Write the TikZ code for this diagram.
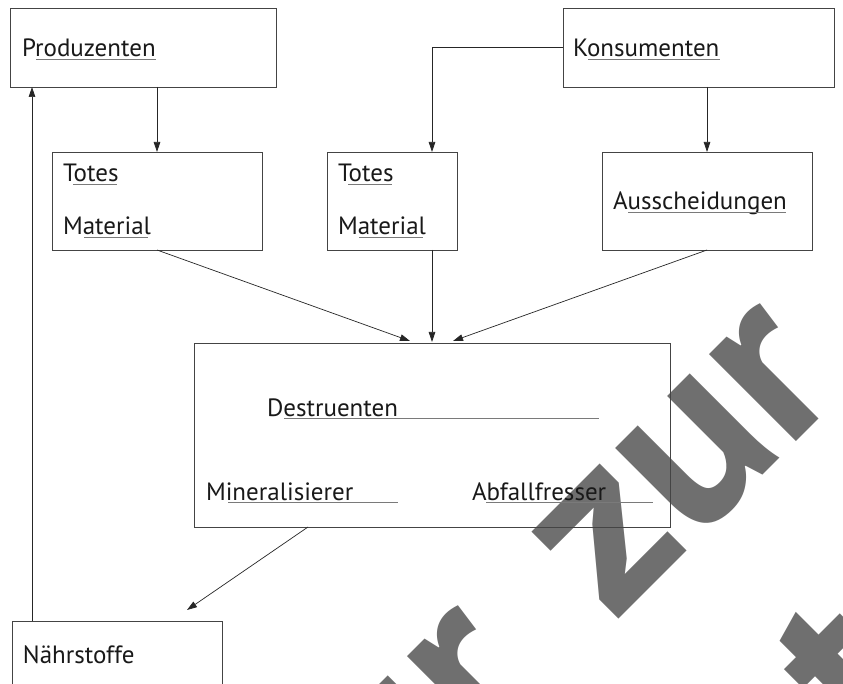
\documentclass[tikz,border=0pt]{standalone}
\usepackage{fontspec}
\setmainfont{PT Sans}
\newfontfamily\wmfont{PT Sans}[BoldFont={PT Sans Bold}]
\usetikzlibrary{arrows.meta}
\definecolor{boxline}{HTML}{444444}
\definecolor{ulcol}{HTML}{7A7A7A}
\definecolor{wmcol}{HTML}{6F6F6F}
\tikzset{
  box/.style={draw=boxline, line width=0.9pt, rectangle, inner sep=0pt, outer sep=0pt},
  lbl/.style={anchor=base west, inner sep=0pt, outer sep=0pt, font=\fontsize{25}{29}\selectfont, text=black!90},
  ul/.style={draw=ulcol, line width=1pt},
  conn/.style={draw=black!85, line width=0.7pt, -{Triangle[length=10pt,width=6.5pt]}},
  wm/.style={rotate=45, inner sep=0pt, outer sep=0pt, text=wmcol, font=\wmfont\bfseries\fontsize{246}{246}\selectfont}
}
\begin{document}
\begin{tikzpicture}[x=1pt,y=-1pt]
\useasboundingbox (0,0) rectangle (843,684);
\clip (0,0) rectangle (843,684);
\fill[white] (0,0) rectangle (843,684);
% watermark
\node[wm, anchor=base east] (wm0) at (546,692) {Nur};
\node[wm, anchor=base east] (wm1) at (848,390) {zur};
\node[wm, anchor=base west] (wm2) at (870,757) {t};
% boxes
\node[box, minimum width=266pt, minimum height=79pt] (prod) at (143,47.5) {};
\node[box, minimum width=271pt, minimum height=79pt] (kons) at (698.5,47.5) {};
\node[box, minimum width=210pt, minimum height=98pt] (tot1) at (157,201) {};
\node[box, minimum width=130pt, minimum height=98pt] (tot2) at (392,201) {};
\node[box, minimum width=210pt, minimum height=98pt] (auss) at (707,201) {};
\node[box, minimum width=476pt, minimum height=184pt] (dest) at (432,435) {};
\node[box, minimum width=210pt, minimum height=100pt] (naeh) at (117,671) {};
% labels
\node[lbl] (tprod) at (22,57) {Produzenten};
\node[lbl] (tkons) at (573,57) {Konsumenten};
\node[lbl] (ttot1) at (63,182) {Totes};
\node[lbl] (tmat1) at (63,235) {Material};
\node[lbl] (ttot2) at (338,182) {Totes};
\node[lbl] (tmat2) at (338,235) {Material};
\node[lbl] (tauss) at (613,210) {Ausscheidungen};
\node[lbl] (tdest) at (267,416) {Destruenten};
\node[lbl] (tmin) at (206,500) {Mineralisierer};
\node[lbl] (tabf) at (472,500) {Abfallfresser};
\node[lbl] (tnae) at (23,663) {Nährstoffe};
% underlines
\draw[ul] (36,59.5) -- (156,59.5);
\draw[ul] (588,59.5) -- (720,59.5);
\draw[ul] (73,184.5) -- (117,184.5);
\draw[ul] (84,237.5) -- (148,237.5);
\draw[ul] (348,184.5) -- (392,184.5);
\draw[ul] (359,237.5) -- (423,237.5);
\draw[ul] (628,213) -- (786,213);
\draw[ul] (284,418.5) -- (599,418.5);
\draw[ul] (228,502.5) -- (398,502.5);
\draw[ul] (486,502.5) -- (653,502.5);
% connectors
\draw[conn] (tot1.north |- prod.south) -- (tot1.north);
\draw[conn] (kons.west) -| ([xshift=40pt]tot2.north);
\draw[conn] (auss.north |- kons.south) -- (auss.north);
\draw[conn] (tot1.south) -- ([xshift=-22pt,yshift=2pt]dest.north);
\draw[conn] ([xshift=40pt]tot2.south) -- ([yshift=1pt]dest.north);
\draw[conn] (auss.south) -- ([xshift=21pt,yshift=2pt]dest.north);
\draw[conn] ([xshift=-124pt]dest.south) -- ([xshift=70pt,yshift=11pt]naeh.north);
\draw[conn] ([xshift=-85pt]naeh.north) -- ([xshift=-85pt]naeh.north |- prod.south);
\end{tikzpicture}
\end{document}
